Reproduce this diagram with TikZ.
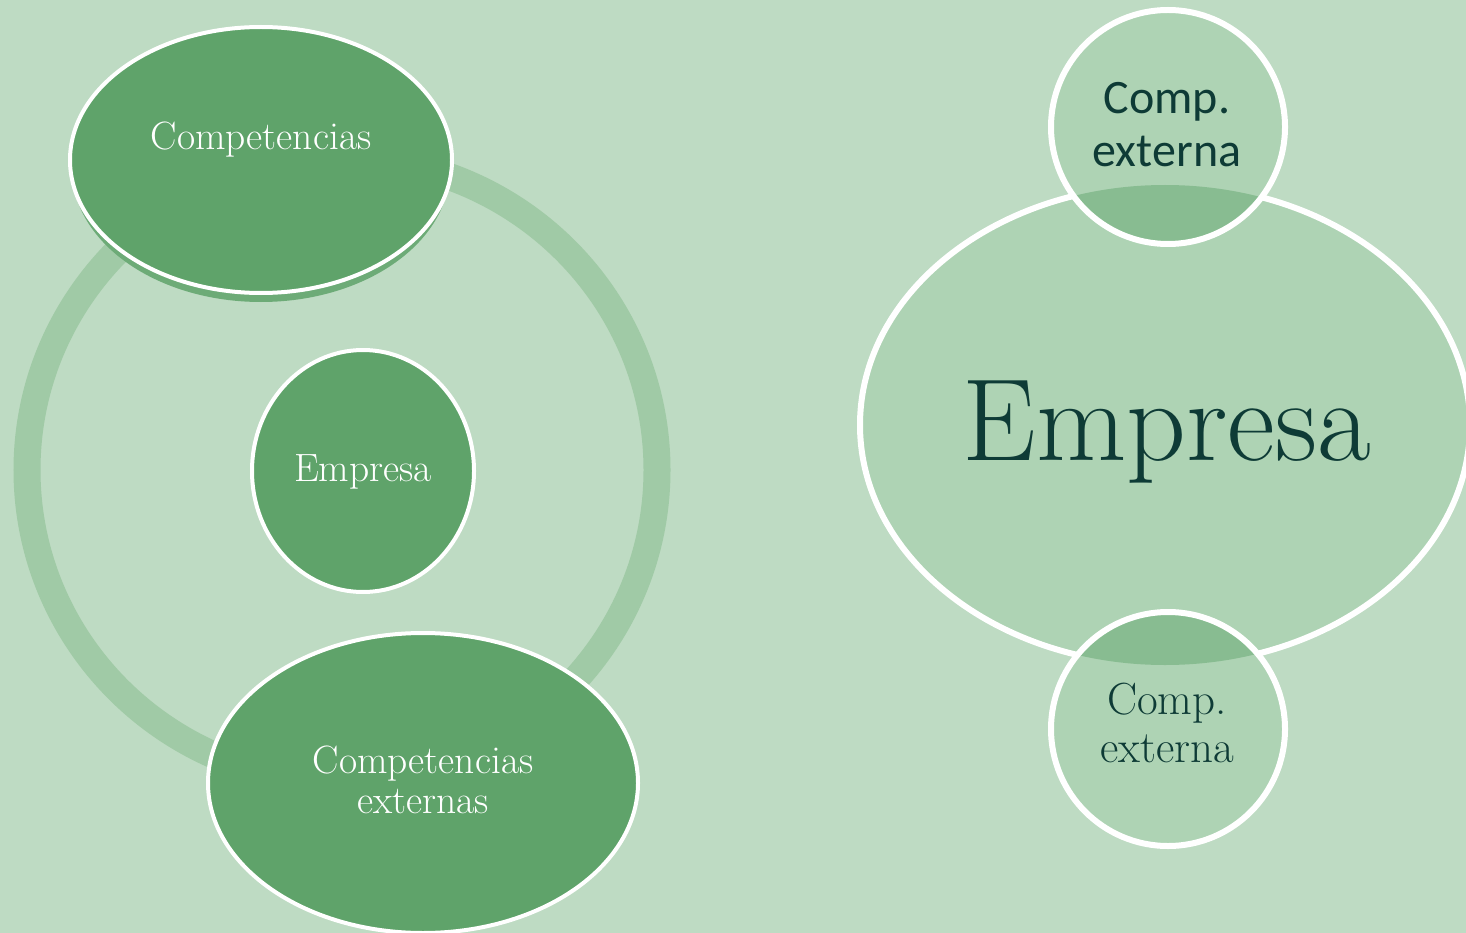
\documentclass[tikz,border=0pt]{standalone}
\usepackage{fontspec}
\newfontfamily\carlito{Carlito}
\usetikzlibrary{shapes.geometric}
\definecolor{bgc}{HTML}{BEDBC3}
\definecolor{darkfill}{HTML}{5FA36A}
\definecolor{shadowc}{HTML}{6DAB77}
\definecolor{ringc}{HTML}{A0CAA6}
\definecolor{lightfill}{HTML}{AED3B4}
\definecolor{overlapc}{HTML}{88BC91}
\definecolor{darktext}{HTML}{0E3B36}
\tikzset{
  lell/.style={ellipse, fill=darkfill, draw=white, line width=4pt, inner sep=0pt},
  rshape/.style={fill=lightfill, inner sep=0pt},
  wtext/.style={text=white, align=center, font=\fontsize{39.5}{40}\selectfont},
}
\begin{document}
\begin{tikzpicture}[x=1pt,y=-1pt]
\fill[bgc] (0,0) rectangle (1466,933);
\useasboundingbox (0,0) rectangle (1466,933);

% ring
\draw[ringc, line width=27pt] (342,470) ellipse [x radius=315, y radius=312];

% left ellipses
\fill[shadowc] (261,169) ellipse [x radius=189, y radius=133];
\node[lell, minimum width=382pt, minimum height=266pt] (comp) at (261,160) {};
\node[lell, minimum width=222pt, minimum height=242pt] (emp) at (363,471) {};
\node[lell, minimum width=430pt, minimum height=300pt] (compext) at (423,783) {};

\node[wtext, anchor=base] (tcomp) at (261,150) {Competencias};
\node[wtext, anchor=base] (temp) at (363,481) {Empresa};
\node[wtext] (tcompext) at (423,780) {Competencias\\externas};

% right side
\node[rshape, ellipse, draw=white, line width=6pt, minimum width=610pt, minimum height=480pt] (bigemp) at (1165,425) {};
\node[rshape, circle, minimum size=234pt] (ctop) at (1168,127) {};
\node[rshape, circle, minimum size=234pt] (cbot) at (1168,729) {};
\begin{scope}
  \clip (1168,127) circle [radius=117];
  \fill[overlapc] (1165,425) ellipse [x radius=305, y radius=240];
\end{scope}
\begin{scope}
  \clip (1168,729) circle [radius=117];
  \fill[overlapc] (1165,425) ellipse [x radius=305, y radius=240];
\end{scope}
\draw[white, line width=6pt] (ctop.center) circle [radius=117];
\draw[white, line width=6pt] (cbot.center) circle [radius=117];

\node[text=darktext, anchor=base, font=\fontsize{117}{125}\selectfont] (tbig) at (1167,460) {Empresa};
\node[text=darktext, align=center, font=\carlito\fontsize{48}{53}\selectfont] (ttop) at (1167,125) {Comp.\\externa};
\node[text=darktext, align=center, font=\fontsize{45}{48}\selectfont] (tbot) at (1167,723) {Comp.\\externa};
\end{tikzpicture}
\end{document}
